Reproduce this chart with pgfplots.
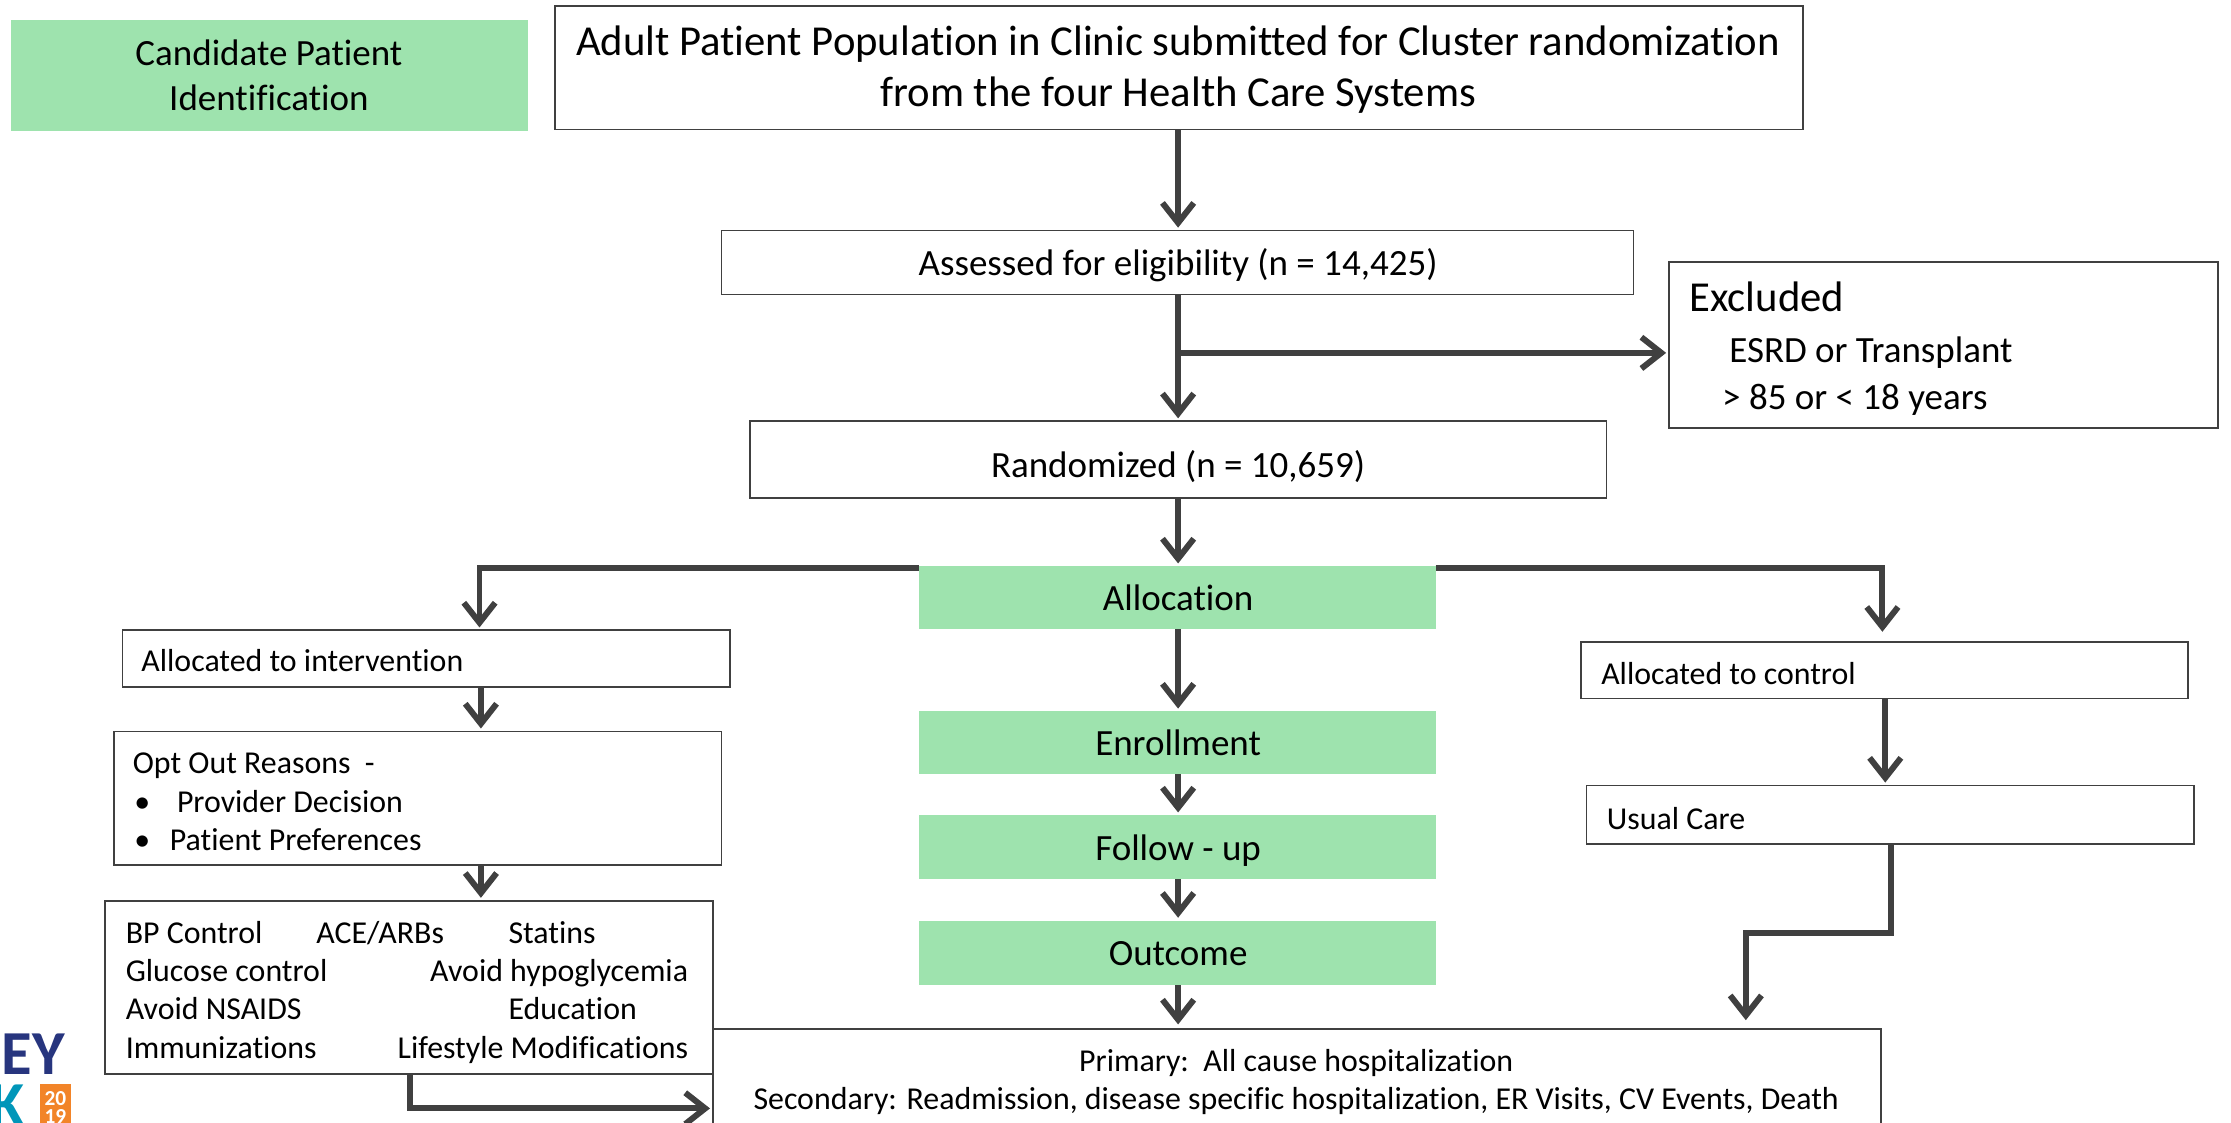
\documentclass[border=0pt]{standalone}
\usepackage{fontspec}
\setmainfont[Ligatures=NoCommon]{Carlito}
\usepackage{pgfplots}
\pgfplotsset{compat=1.18}
\usetikzlibrary{arrows.meta}

\definecolor{boxgreen}{RGB}{158,227,174}
\definecolor{ink}{RGB}{64,64,64}
\definecolor{logoblue}{RGB}{39,53,126}
\definecolor{logoteal}{RGB}{0,150,185}
\definecolor{logoorange}{RGB}{242,132,40}

\newcommand{\fbig}{\fontsize{15}{18}\selectfont}
\newcommand{\fmed}{\fontsize{13}{16}\selectfont}
\newcommand{\fsmall}{\fontsize{11.2}{13.5}\selectfont}

\begin{document}
\begin{tikzpicture}
\begin{axis}[
  name=ax,
  width=784pt, height=394.5pt, scale only axis,
  xmin=0, xmax=1568, ymin=0, ymax=789, y dir=reverse,
  hide axis, clip=false,
  box/.style={draw=ink, line width=0.6pt, fill=white},
  gbox/.style={draw=none, fill=boxgreen},
  arr/.style={ink, line width=2.1pt, -{Straight Barb[length=7pt,width=11pt]}},
]
% connectors
\addplot[arr] coordinates {(828,91) (828,160)};
\addplot[arr] coordinates {(828,207) (828,294)};
\addplot[arr] coordinates {(828,248) (1171,248)};
\addplot[arr] coordinates {(828,350) (828,396)};
\addplot[arr] coordinates {(646,399) (337,399) (337,441)};
\addplot[arr] coordinates {(1009,399) (1323,399) (1323,444)};
\addplot[arr] coordinates {(338,483) (338,512)};
\addplot[arr] coordinates {(338,608) (338,631)};
\addplot[arr] coordinates {(288,755) (288,779) (499,779)};
\addplot[arr] coordinates {(828,442) (828,498)};
\addplot[arr] coordinates {(828,544) (828,571)};
\addplot[arr] coordinates {(828,618) (828,645)};
\addplot[arr] coordinates {(828,692) (828,720)};
\addplot[arr] coordinates {(1325,491) (1325,550)};
\addplot[arr] coordinates {(1329,593) (1329,656) (1227,656) (1227,717)};

% green stage boxes
\addplot[gbox] coordinates {(8,14) (371,14) (371,92) (8,92)} --cycle;
\addplot[gbox] coordinates {(646,398) (1009,398) (1009,442) (646,442)} --cycle;
\addplot[gbox] coordinates {(646,500) (1009,500) (1009,544) (646,544)} --cycle;
\addplot[gbox] coordinates {(646,573) (1009,573) (1009,618) (646,618)} --cycle;
\addplot[gbox] coordinates {(646,647) (1009,647) (1009,692) (646,692)} --cycle;

% white boxes
\addplot[box] coordinates {(390,4) (1267,4) (1267,91) (390,91)} --cycle;
\addplot[box] coordinates {(507,162) (1148,162) (1148,207) (507,207)} --cycle;
\addplot[box] coordinates {(1173,184) (1559,184) (1559,301) (1173,301)} --cycle;
\addplot[box] coordinates {(527,296) (1129,296) (1129,350) (527,350)} --cycle;
\addplot[box] coordinates {(86,443) (513,443) (513,483) (86,483)} --cycle;
\addplot[box] coordinates {(80,514) (507,514) (507,608) (80,608)} --cycle;
\addplot[box] coordinates {(74,633) (501,633) (501,755) (74,755)} --cycle;
\addplot[box] coordinates {(1111,451) (1538,451) (1538,491) (1111,491)} --cycle;
\addplot[box] coordinates {(1115,552) (1542,552) (1542,593) (1115,593)} --cycle;
\addplot[draw=ink, line width=0.6pt] coordinates {(501,789) (501,723) (1322,723) (1322,789)};

% texts
\node[font=\fmed, anchor=mid] at (axis cs:189,41) {Candidate Patient};
\node[font=\fmed, anchor=mid] at (axis cs:189,73) {Identification};
\node[font=\fbig, anchor=mid] at (axis cs:828,34) {Adult Patient Population in Clinic submitted for Cluster randomization};
\node[font=\fbig, anchor=mid] at (axis cs:828,70) {from the four Health Care Systems};
\node[font=\fmed, anchor=mid] at (axis cs:828,189) {Assessed for eligibility (n = 14,425)};
\node[font=\fbig, anchor=mid west, inner sep=0pt] at (axis cs:1187,214) {Excluded};
\node[font=\fmed, anchor=mid west, inner sep=0pt] at (axis cs:1215,250) {ESRD or Transplant};
\node[font=\fmed, anchor=mid west, inner sep=0pt] at (axis cs:1210,283) {> 85 or < 18 years};
\node[font=\fmed, anchor=mid] at (axis cs:828,331) {Randomized (n = 10,659)};
\node[font=\fmed, anchor=mid] at (axis cs:828,424) {Allocation};
\node[font=\fmed, anchor=mid] at (axis cs:828,526) {Enrollment};
\node[font=\fmed, anchor=mid] at (axis cs:828,600) {Follow - up};
\node[font=\fmed, anchor=mid] at (axis cs:828,674) {Outcome};
\node[font=\fsmall, anchor=mid west, inner sep=0pt] at (axis cs:99,467) {Allocated to intervention};
\node[font=\fsmall, anchor=mid west, inner sep=0pt] at (axis cs:93,539) {Opt Out Reasons\ \ -};
\node[font=\fsmall, anchor=mid west, inner sep=0pt] at (axis cs:94,566) {•};
\node[font=\fsmall, anchor=mid west, inner sep=0pt] at (axis cs:94,593) {•};
\node[font=\fsmall, anchor=mid west, inner sep=0pt] at (axis cs:124,566) {Provider Decision};
\node[font=\fsmall, anchor=mid west, inner sep=0pt] at (axis cs:119,593) {Patient Preferences};
\node[font=\fsmall, anchor=mid west, inner sep=0pt] at (axis cs:88,658) {BP Control};
\node[font=\fsmall, anchor=mid west, inner sep=0pt] at (axis cs:222,658) {ACE/ARBs};
\node[font=\fsmall, anchor=mid west, inner sep=0pt] at (axis cs:357,658) {Statins};
\node[font=\fsmall, anchor=mid west, inner sep=0pt] at (axis cs:88,685) {Glucose control};
\node[font=\fsmall, anchor=mid east, inner sep=0pt] at (axis cs:484,685) {Avoid hypoglycemia};
\node[font=\fsmall, anchor=mid west, inner sep=0pt] at (axis cs:88,712) {Avoid NSAIDS};
\node[font=\fsmall, anchor=mid west, inner sep=0pt] at (axis cs:357,712) {Education};
\node[font=\fsmall, anchor=mid west, inner sep=0pt] at (axis cs:88,739) {Immunizations};
\node[font=\fsmall, anchor=mid east, inner sep=0pt] at (axis cs:484,739) {Lifestyle Modifications};
\node[font=\fsmall, anchor=mid] at (axis cs:911,748) {Primary:\ \ All cause hospitalization};
\node[font=\fsmall, anchor=mid] at (axis cs:911,775) {Secondary: Readmission, disease specific hospitalization, ER Visits, CV Events, Death};
\node[font=\fsmall, anchor=mid west, inner sep=0pt] at (axis cs:1125,476) {Allocated to control};
\node[font=\fsmall, anchor=mid west, inner sep=0pt] at (axis cs:1129,578) {Usual Care};

% logo at lower left, cut by the page edge
\begin{scope}[overlay]
\clip (axis cs:0,700) rectangle (axis cs:70,789);
\node[font=\fontsize{22}{22}\selectfont\bfseries, text=logoblue, anchor=base east, inner sep=0pt] at (axis cs:46,755.5) {KIDNEY};
\node[font=\fontsize{22}{22}\selectfont\bfseries, text=logoteal, anchor=base east, inner sep=0pt] at (axis cs:18,791) {WEEK};
\fill[logoorange] (axis cs:28,762) rectangle (axis cs:50,795);
\node[font=\fontsize{7.5}{7.5}\selectfont\bfseries, text=white, anchor=mid] at (axis cs:39,772) {20};
\node[font=\fontsize{7.5}{7.5}\selectfont\bfseries, text=white, anchor=mid] at (axis cs:39,785) {19};
\end{scope}
\end{axis}
\pgfresetboundingbox
\useasboundingbox (ax.south west) rectangle (ax.north east);
\end{tikzpicture}
\end{document}
